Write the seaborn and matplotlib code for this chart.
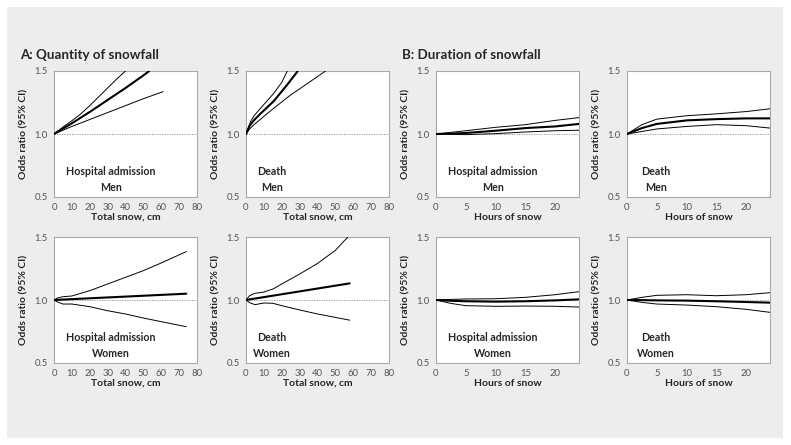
import pandas as pd
import seaborn as sns
import matplotlib.pyplot as plt
from matplotlib.patches import Rectangle

sns.set_theme(style="white")
plt.rcParams['font.family'] = ['Lato', 'DejaVu Sans']

# ---- A: quantity of snowfall (total snow, cm) ----
# Hospital admission, men
hm_snow_x = [0, 10, 20, 30, 40, 50, 53.3]
hm_snow_or = [1.0, 1.085, 1.175, 1.27, 1.365, 1.465, 1.5]
hm_snow_hi_x = [0, 5, 10, 15, 20, 25, 30, 35, 40]
hm_snow_hi = [1.0, 1.055, 1.105, 1.16, 1.225, 1.295, 1.365, 1.435, 1.5]
hm_snow_lo_x = [0, 10, 20, 30, 40, 50, 61]
hm_snow_lo = [1.0, 1.06, 1.115, 1.17, 1.225, 1.28, 1.336]

# Death, men
dm_snow_x = [0, 2, 4.5, 8, 15.6, 23, 29]
dm_snow_or = [1.0, 1.065, 1.11, 1.16, 1.262, 1.39, 1.5]
dm_snow_hi_x = [0, 2.6, 4.5, 8.2, 15.6, 20, 23.1]
dm_snow_hi = [1.0, 1.1, 1.145, 1.205, 1.324, 1.41, 1.5]
dm_snow_lo_x = [0, 2, 4.5, 10, 15.6, 25, 34.3, 44.5]
dm_snow_lo = [1.0, 1.04, 1.074, 1.14, 1.205, 1.31, 1.40, 1.5]

# Hospital admission, women
hw_snow_x = [0, 74]
hw_snow_or = [1.0, 1.05]
hw_snow_hi_x = [0, 2, 5, 10, 20, 30, 40, 50, 60, 74]
hw_snow_hi = [1.0, 1.016, 1.026, 1.032, 1.074, 1.127, 1.18, 1.233, 1.294, 1.384]
hw_snow_lo_x = [0, 2, 5, 10, 20, 30, 40, 50, 60, 74]
hw_snow_lo = [1.0, 0.984, 0.968, 0.968, 0.947, 0.915, 0.889, 0.857, 0.828, 0.788]

# Death, women
dw_snow_x = [0, 58]
dw_snow_or = [1.0, 1.132]
dw_snow_hi_x = [0, 2, 5, 10, 15, 20, 30, 40, 50, 57]
dw_snow_hi = [1.0, 1.034, 1.053, 1.063, 1.087, 1.127, 1.206, 1.29, 1.394, 1.5]
dw_snow_lo_x = [0, 2, 5, 10, 15, 20, 30, 40, 50, 58]
dw_snow_lo = [1.0, 0.979, 0.963, 0.976, 0.974, 0.955, 0.921, 0.889, 0.862, 0.84]

# ---- B: duration of snowfall (hours) ----
hours = [0, 2.5, 5, 10, 15, 20, 24]
hm_hrs_or = [1.0, 1.003, 1.008, 1.026, 1.047, 1.06, 1.08]
hm_hrs_hi = [1.0, 1.013, 1.026, 1.053, 1.074, 1.108, 1.13]
hm_hrs_lo = [1.0, 0.997, 0.995, 1.003, 1.016, 1.026, 1.03]

dm_hrs_or = [1.0, 1.047, 1.08, 1.108, 1.118, 1.124, 1.124]
dm_hrs_hi = [1.0, 1.074, 1.118, 1.145, 1.16, 1.178, 1.2]
dm_hrs_lo = [1.0, 1.02, 1.04, 1.06, 1.074, 1.066, 1.047]

hw_hrs_or = [1.0, 0.994, 0.99, 0.987, 0.99, 0.997, 1.005]
hw_hrs_hi = [1.0, 1.005, 1.008, 1.01, 1.021, 1.042, 1.066]
hw_hrs_lo = [1.0, 0.973, 0.955, 0.95, 0.952, 0.95, 0.944]

dw_hrs_or = [1.0, 0.999, 0.997, 0.995, 0.99, 0.984, 0.979]
dw_hrs_hi = [1.0, 1.021, 1.037, 1.042, 1.034, 1.042, 1.058]
dw_hrs_lo = [1.0, 0.981, 0.968, 0.96, 0.947, 0.926, 0.902]

panels = [
    # (row, col, curves, label, xlabel)
    (0, 0, [(hm_snow_x, hm_snow_or), (hm_snow_hi_x, hm_snow_hi), (hm_snow_lo_x, hm_snow_lo)],
     "Hospital admission\nMen", "snow"),
    (0, 1, [(dm_snow_x, dm_snow_or), (dm_snow_hi_x, dm_snow_hi), (dm_snow_lo_x, dm_snow_lo)],
     "Death\nMen", "snow"),
    (0, 2, [(hours, hm_hrs_or), (hours, hm_hrs_hi), (hours, hm_hrs_lo)],
     "Hospital admission\nMen", "hours"),
    (0, 3, [(hours, dm_hrs_or), (hours, dm_hrs_hi), (hours, dm_hrs_lo)],
     "Death\nMen", "hours"),
    (1, 0, [(hw_snow_x, hw_snow_or), (hw_snow_hi_x, hw_snow_hi), (hw_snow_lo_x, hw_snow_lo)],
     "Hospital admission\nWomen", "snow"),
    (1, 1, [(dw_snow_x, dw_snow_or), (dw_snow_hi_x, dw_snow_hi), (dw_snow_lo_x, dw_snow_lo)],
     "Death\nWomen", "snow"),
    (1, 2, [(hours, hw_hrs_or), (hours, hw_hrs_hi), (hours, hw_hrs_lo)],
     "Hospital admission\nWomen", "hours"),
    (1, 3, [(hours, dw_hrs_or), (hours, dw_hrs_hi), (hours, dw_hrs_lo)],
     "Death\nWomen", "hours"),
]

fig = plt.figure(figsize=(7.91, 4.45), dpi=100)
fig.patch.set_facecolor("white")
fig.patches.append(Rectangle((7 / 791, 1 - 438 / 445), 776 / 791, 431 / 445,
                             transform=fig.transFigure, facecolor="#ecedec",
                             edgecolor="none", zorder=-10))

lefts = [54, 246, 436, 627]
tops = [71, 237]
W, H = 143, 126
text_x = [0.40, 0.18, 0.40, 0.20]

for row, col, curves, label, kind in panels:
    ax = fig.add_axes([lefts[col] / 791, 1 - (tops[row] + H) / 445, W / 791, H / 445])
    ax.set_facecolor("white")
    ax.axhline(1.0, color="#888888", lw=0.6, ls=(0, (1.5, 1.5)), zorder=1)
    for i, (xs, ys) in enumerate(curves):
        df = pd.DataFrame({"x": xs, "y": ys})
        sns.lineplot(data=df, x="x", y="y", ax=ax, color="black",
                     lw=1.5 if i == 0 else 0.7, sort=False, estimator=None, zorder=3)
    ax.set_ylim(0.5, 1.5)
    ax.set_yticks([0.5, 0.6, 0.7, 0.8, 0.9, 1.0, 1.1, 1.2, 1.3, 1.4, 1.5])
    ax.set_yticklabels(["0.5", "", "", "", "", "1.0", "", "", "", "", "1.5"])
    if kind == "snow":
        ax.set_xlim(0, 80)
        ax.set_xticks(range(0, 81, 10))
        ax.set_xlabel("Total snow, cm", fontsize=7.5, fontweight="bold", labelpad=1)
    else:
        ax.set_xlim(0, 24)
        ax.set_xticks([0, 5, 10, 15, 20])
        ax.set_xlabel("Hours of snow", fontsize=7.5, fontweight="bold", labelpad=1)
    ax.set_ylabel("Odds ratio (95% CI)", fontsize=7.5, fontweight="bold", labelpad=4)
    ax.tick_params(axis="both", labelsize=6.8, labelcolor="#555555", color="#999999",
                   length=2.5, width=0.6, direction="out", pad=2)
    ax.tick_params(axis="x", length=0, pad=4)
    for s in ax.spines.values():
        s.set_color("#aaaaaa")
        s.set_linewidth(0.8)
    ax.text(text_x[col], 0.14, label, transform=ax.transAxes, ha="center", va="center",
            fontsize=7.7, fontweight="bold", linespacing=1.5)

fig.text(20 / 791, 1 - 55 / 445, "A: Quantity of snowfall", fontsize=9.6,
         fontweight="bold", va="center", ha="left")
fig.text(402 / 791, 1 - 55 / 445, "B: Duration of snowfall", fontsize=9.6,
         fontweight="bold", va="center", ha="left")

fig.savefig("out.png", dpi=100, facecolor="white")
